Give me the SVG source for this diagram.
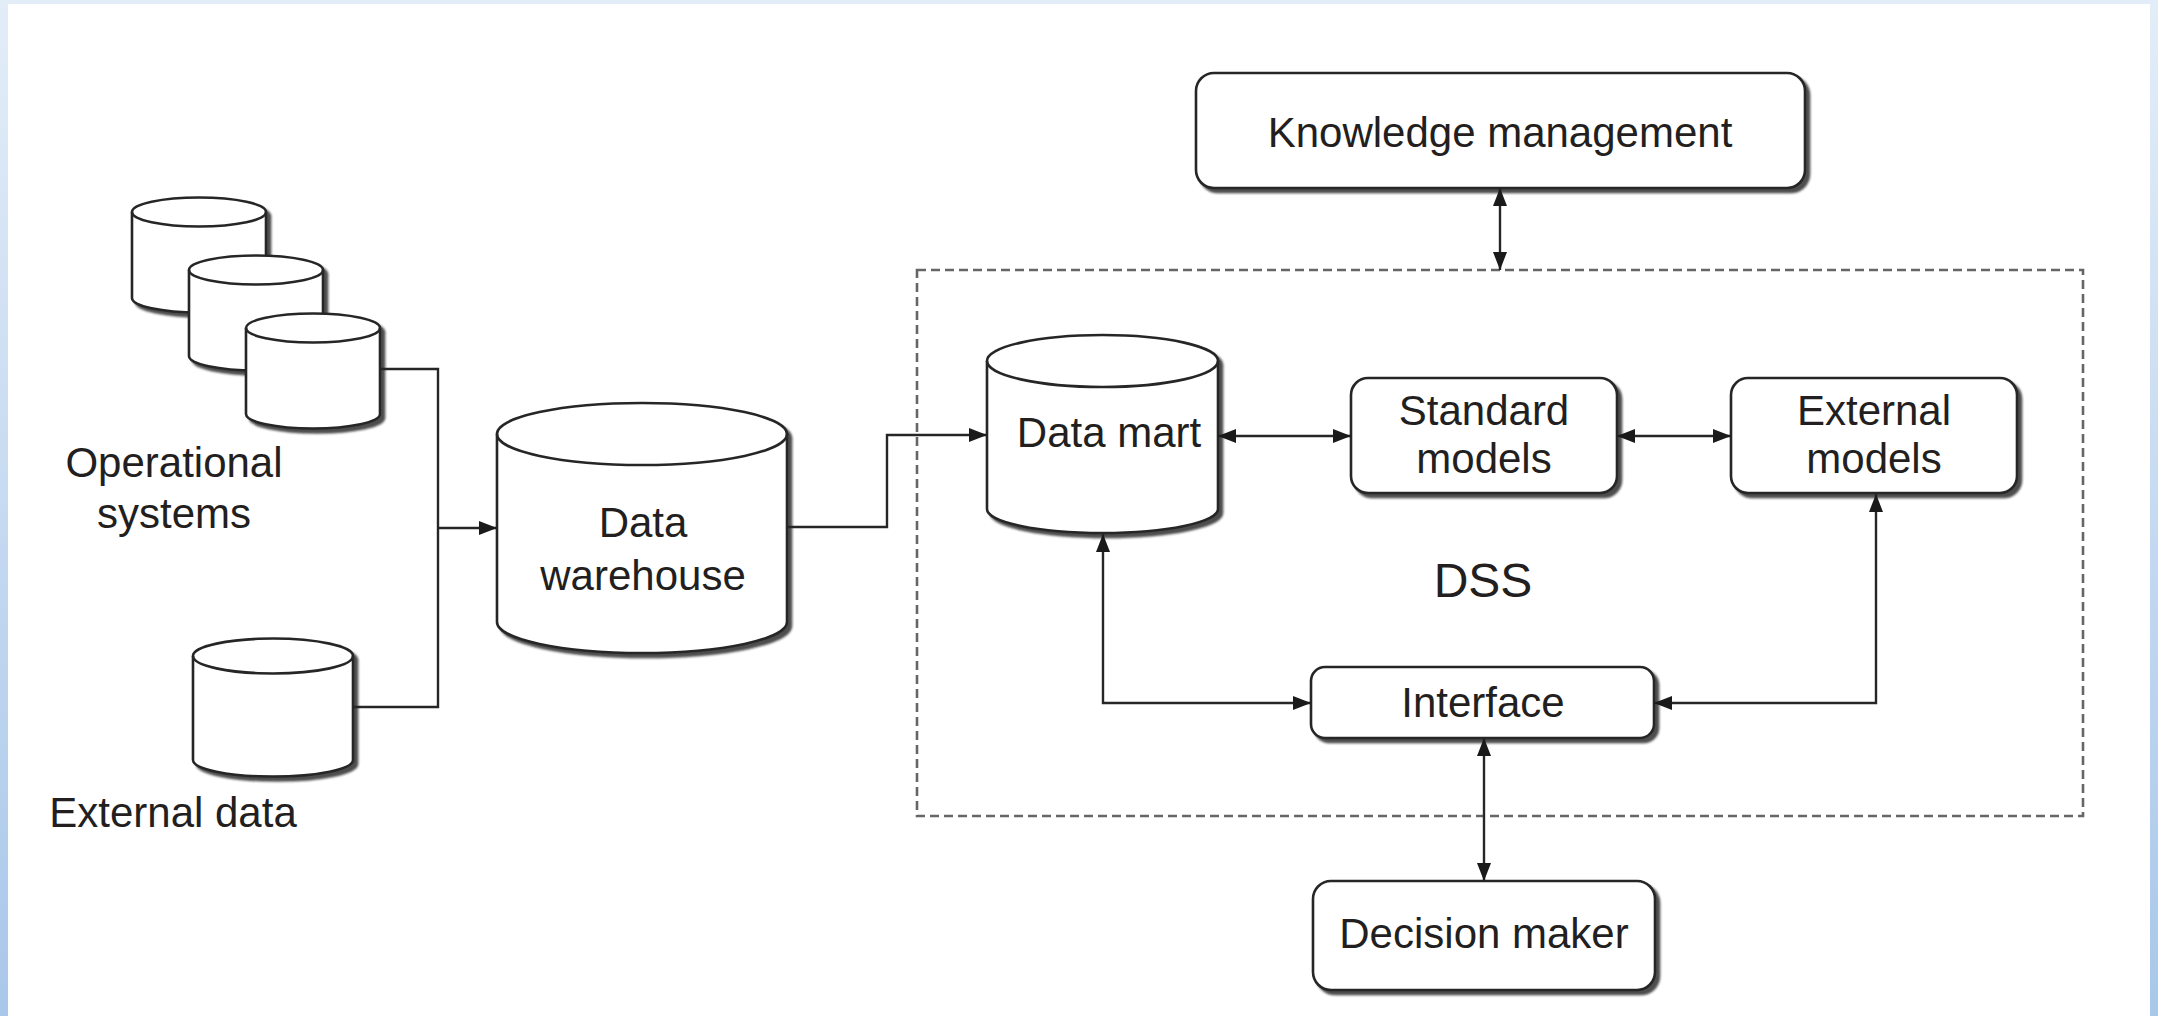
<svg xmlns="http://www.w3.org/2000/svg" width="2158" height="1016" viewBox="0 0 2158 1016">
  <defs>
    <linearGradient id="edge" x1="0" y1="0" x2="0" y2="1">
      <stop offset="0" stop-color="#e3edf8"/>
      <stop offset="1" stop-color="#a9c7ea"/>
    </linearGradient>
    <filter id="shadow" x="-10%" y="-10%" width="130%" height="130%">
      <feDropShadow dx="4" dy="4" stdDeviation="1.2" flood-color="#222" flood-opacity="0.8"/>
    </filter>
    <marker id="arrow" viewBox="0 0 18 14" refX="18" refY="7" markerWidth="18" markerHeight="14" markerUnits="userSpaceOnUse" orient="auto-start-reverse">
      <path d="M0,0 L18,7 L0,14 Z" fill="#1a1a1a"/>
    </marker>
  </defs>
  <style>
    text { font-family: "Liberation Sans", Arial, sans-serif; font-size: 42px; fill: #231f20; text-anchor: middle; }
    .shape { fill: #fff; stroke: #262626; stroke-width: 2.6; }
    .cap { fill: none; stroke: #262626; stroke-width: 2.6; }
    .wire { fill: none; stroke: #262626; stroke-width: 2.4; }
    .dss { fill: none; stroke: #666; stroke-width: 2.6; stroke-dasharray: 9 5; }
  </style>

  <!-- page frame -->
  <rect x="0" y="0" width="2158" height="1016" fill="#fff"/>
  <rect x="0" y="0" width="2158" height="4" fill="#e3edf8"/>
  <rect x="0" y="0" width="8" height="1016" fill="url(#edge)"/>
  <rect x="2150" y="0" width="8" height="1016" fill="url(#edge)"/>

  <!-- DSS boundary -->
  <rect class="dss" x="917" y="270" width="1166" height="546"/>
  <text x="1483" y="597" style="font-size:48px">DSS</text>

  <!-- operational system databases -->
  <g id="ops-db-1" filter="url(#shadow)">
    <path class="shape" d="M132,212 A67,14.5 0 0 1 266,212 L266,298 A67,14.5 0 0 1 132,298 Z"/>
    <path class="cap" d="M132,212 A67,14.5 0 0 0 266,212"/>
  </g>
  <g id="ops-db-2" filter="url(#shadow)">
    <path class="shape" d="M189,270 A67,14.5 0 0 1 323,270 L323,356 A67,14.5 0 0 1 189,356 Z"/>
    <path class="cap" d="M189,270 A67,14.5 0 0 0 323,270"/>
  </g>
  <g id="ops-db-3" filter="url(#shadow)">
    <path class="shape" d="M246,328 A67,14.5 0 0 1 380,328 L380,414 A67,14.5 0 0 1 246,414 Z"/>
    <path class="cap" d="M246,328 A67,14.5 0 0 0 380,328"/>
  </g>
  <g id="ops-label">
    <text x="174" y="477">Operational</text>
    <text x="174" y="528">systems</text>
  </g>

  <!-- external data -->
  <g id="external-data">
    <g filter="url(#shadow)">
      <path class="shape" d="M193,656 A80,17.5 0 0 1 353,656 L353,760 A80,16.5 0 0 1 193,760 Z"/>
      <path class="cap" d="M193,656 A80,17.5 0 0 0 353,656"/>
    </g>
    <text x="173" y="827">External data</text>
  </g>

  <!-- data warehouse -->
  <g id="data-warehouse">
    <g filter="url(#shadow)">
      <path class="shape" d="M497,434 A145,31 0 0 1 787,434 L787,622 A145,31 0 0 1 497,622 Z"/>
      <path class="cap" d="M497,434 A145,31 0 0 0 787,434"/>
    </g>
    <text x="643" y="537">Data</text>
    <text x="643" y="590">warehouse</text>
  </g>

  <!-- data mart -->
  <g id="data-mart">
    <g filter="url(#shadow)">
      <path class="shape" d="M987,361 A115.5,26 0 0 1 1218,361 L1218,509 A115.5,24 0 0 1 987,509 Z"/>
      <path class="cap" d="M987,361 A115.5,26 0 0 0 1218,361"/>
    </g>
    <text x="1109" y="447">Data mart</text>
  </g>

  <!-- knowledge management -->
  <g id="knowledge-management">
    <rect class="shape" filter="url(#shadow)" x="1196" y="73" width="609" height="115" rx="18"/>
    <text x="1500" y="147">Knowledge management</text>
  </g>

  <!-- standard models -->
  <g id="standard-models">
    <rect class="shape" filter="url(#shadow)" x="1351" y="378" width="266" height="115" rx="17"/>
    <text x="1484" y="425">Standard</text>
    <text x="1484" y="473">models</text>
  </g>

  <!-- external models -->
  <g id="external-models">
    <rect class="shape" filter="url(#shadow)" x="1731" y="378" width="286" height="115" rx="17"/>
    <text x="1874" y="425">External</text>
    <text x="1874" y="473">models</text>
  </g>

  <!-- interface -->
  <g id="interface">
    <rect class="shape" filter="url(#shadow)" x="1311" y="667" width="343" height="71" rx="14"/>
    <text x="1483" y="717">Interface</text>
  </g>

  <!-- decision maker -->
  <g id="decision-maker">
    <rect class="shape" filter="url(#shadow)" x="1313" y="881" width="342" height="109" rx="18"/>
    <text x="1484" y="948">Decision maker</text>
  </g>

  <!-- connectors -->
  <g id="connectors">
    <polyline class="wire" points="380,369 438,369 438,707 353,707"/>
    <line class="wire" x1="438" y1="528" x2="497" y2="528" marker-end="url(#arrow)"/>
    <polyline class="wire" points="787,527 887,527 887,435 987,435" marker-end="url(#arrow)"/>
    <line class="wire" x1="1218" y1="436" x2="1351" y2="436" marker-start="url(#arrow)" marker-end="url(#arrow)"/>
    <line class="wire" x1="1617" y1="436" x2="1731" y2="436" marker-start="url(#arrow)" marker-end="url(#arrow)"/>
    <polyline class="wire" points="1311,703 1103,703 1103,534" marker-start="url(#arrow)" marker-end="url(#arrow)"/>
    <polyline class="wire" points="1654,703 1876,703 1876,494" marker-start="url(#arrow)" marker-end="url(#arrow)"/>
    <line class="wire" x1="1484" y1="738" x2="1484" y2="881" marker-start="url(#arrow)" marker-end="url(#arrow)"/>
    <line class="wire" x1="1500" y1="188" x2="1500" y2="270" marker-start="url(#arrow)" marker-end="url(#arrow)"/>
  </g>
</svg>
